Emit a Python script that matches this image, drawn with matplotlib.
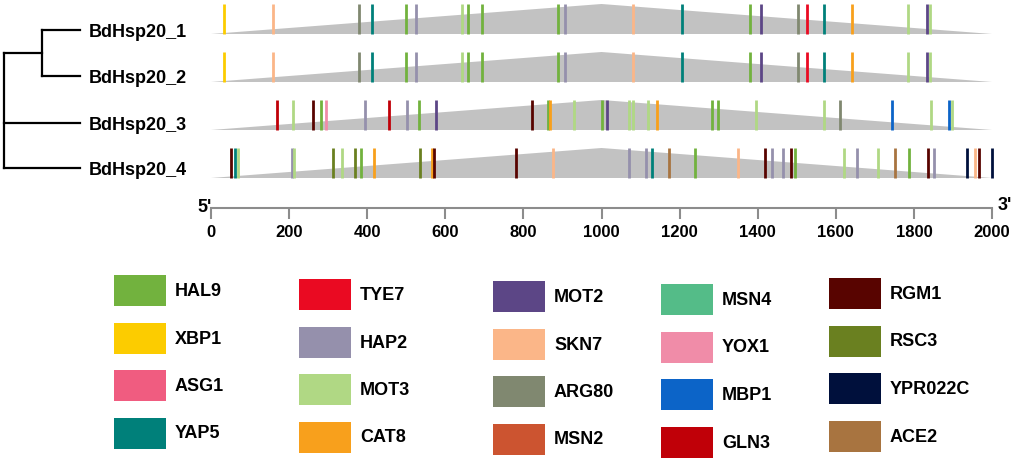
import matplotlib
matplotlib.use('Agg')
import matplotlib.pyplot as plt
from matplotlib.patches import Rectangle

plt.rcParams['font.family'] = ['Liberation Sans', 'DejaVu Sans']
plt.rcParams['font.weight'] = 'bold'

W, H = 1021, 462

genes = ['BdHsp20_1', 'BdHsp20_2', 'BdHsp20_3', 'BdHsp20_4']
seq_len = 2000

# promoter element positions (bp)
hsp1_pos = [33, 159, 379, 412, 499, 525, 643, 658, 694, 889, 907, 1081, 1206,
            1380, 1409, 1503, 1526, 1570, 1641, 1785, 1834, 1841]
hsp1_tf = ['XBP1', 'SKN7', 'ARG80', 'YAP5', 'HAL9', 'HAP2', 'MOT3', 'HAL9', 'HAL9',
           'HAL9', 'HAP2', 'SKN7', 'YAP5', 'HAL9', 'MOT2', 'ARG80', 'TYE7', 'YAP5',
           'CAT8', 'MOT3', 'MOT2', 'MOT3']
hsp2_pos = [33, 159, 379, 412, 499, 525, 643, 658, 694, 889, 907, 1081, 1206,
            1380, 1409, 1503, 1526, 1570, 1641, 1785, 1834, 1841]
hsp2_tf = ['XBP1', 'SKN7', 'ARG80', 'YAP5', 'HAL9', 'HAP2', 'MOT3', 'HAL9', 'HAL9',
           'HAL9', 'HAP2', 'SKN7', 'YAP5', 'HAL9', 'MOT2', 'ARG80', 'TYE7', 'YAP5',
           'CAT8', 'MOT3', 'MOT2', 'MOT3']
hsp3_pos = [169, 210, 261, 282, 294, 394, 456, 502, 533, 576, 822, 863, 868, 930,
            1001, 1014, 1071, 1081, 1119, 1142, 1283, 1298, 1396, 1570, 1611, 1744,
            1844, 1890, 1898]
hsp3_tf = ['GLN3', 'MOT3', 'RGM1', 'HAL9', 'YOX1', 'HAP2', 'GLN3', 'HAP2', 'HAL9',
           'MOT2', 'RGM1', 'HAL9', 'CAT8', 'MOT3', 'HAL9', 'MOT2', 'MOT3', 'MOT3',
           'MOT3', 'CAT8', 'HAL9', 'HAL9', 'MOT3', 'MOT3', 'ARG80', 'MBP1', 'MOT3',
           'MBP1', 'MOT3']
hsp4_pos = [51, 61, 69, 207, 213, 312, 335, 369, 384, 417, 535, 566, 571, 781, 876,
            1071, 1114, 1129, 1173, 1240, 1350, 1419, 1437, 1465, 1485, 1496, 1621,
            1654, 1708, 1752, 1788, 1836, 1852, 1936, 1957, 1967, 2000]
hsp4_tf = ['RGM1', 'YAP5', 'MOT3', 'HAP2', 'MOT3', 'RSC3', 'MOT3', 'RSC3', 'HAL9',
           'CAT8', 'RSC3', 'CAT8', 'RGM1', 'RGM1', 'SKN7', 'HAP2', 'HAP2', 'YAP5',
           'ACE2', 'HAL9', 'SKN7', 'RGM1', 'HAP2', 'HAP2', 'RGM1', 'HAL9', 'MOT3',
           'HAP2', 'MOT3', 'ACE2', 'HAL9', 'RGM1', 'HAP2', 'YPR022C', 'SKN7', 'RGM1',
           'YPR022C']

factors = ['HAL9', 'XBP1', 'ASG1', 'YAP5',
           'TYE7', 'HAP2', 'MOT3', 'CAT8',
           'MOT2', 'SKN7', 'ARG80', 'MSN2',
           'MSN4', 'YOX1', 'MBP1', 'GLN3',
           'RGM1', 'RSC3', 'YPR022C', 'ACE2']
factor_colors = ['#72b23e', '#fccc00', '#f05c80', '#00807a',
                 '#ea0a22', '#9590ac', '#b0d884', '#f8a01c',
                 '#5c4686', '#fbb688', '#808870', '#cc5430',
                 '#54bc88', '#f08ca8', '#0c64c8', '#c00008',
                 '#580400', '#6a8020', '#00103c', '#a87440']
color_of = dict(zip(factors, factor_colors))

sites = [(hsp1_pos, hsp1_tf), (hsp2_pos, hsp2_tf), (hsp3_pos, hsp3_tf), (hsp4_pos, hsp4_tf)]

fig = plt.figure(figsize=(W / 100, H / 100), dpi=100)

# background axes in pixel units for tree, names and legend
bg = fig.add_axes([0, 0, 1, 1])
bg.set_xlim(0, W)
bg.set_ylim(H, 0)
bg.axis('off')

# tracks
top_px = 208
ax = fig.add_axes([211 / W, (H - top_px) / H, 781 / W, top_px / H])
ax.set_xlim(0, seq_len)
ax.set_ylim(top_px, 0)
row_h = 30
baselines = [34 + 48 * i for i in range(len(genes))]
for b, (pos, tf) in zip(baselines, sites):
    ax.fill([0, seq_len / 2, seq_len], [b, b - row_h, b], color='#c2c2c2', lw=0, zorder=1)
    ax.vlines(pos, b - row_h, b, colors=[color_of[t] for t in tf], lw=2.0,
              zorder=2, clip_on=False)

for s in ['top', 'left', 'right']:
    ax.spines[s].set_visible(False)
ax.spines['bottom'].set_color('#8c8c8c')
ax.spines['bottom'].set_linewidth(1.5)
ax.set_yticks([])
ax.set_xticks(range(0, seq_len + 1, 200))
ax.tick_params(axis='x', direction='out', length=8, width=1.5, color='#8c8c8c',
               labelsize=12, pad=4)
for lbl in ax.get_xticklabels():
    lbl.set_fontweight('bold')
ax.patch.set_alpha(0)

bg.text(205, 207, "5'", fontsize=13, ha='center', va='center', fontweight='bold')
bg.text(1005, 205, "3'", fontsize=13, ha='center', va='center', fontweight='bold')

# tree
leaf_y = [30, 76, 123, 168]
root_x, node_x, tip_x = 4, 42, 80
kw = dict(color='black', lw=1.6)
node_y = (leaf_y[0] + leaf_y[1]) / 2
bg.plot([node_x, node_x], [leaf_y[0], leaf_y[1]], **kw)
bg.plot([node_x, tip_x], [leaf_y[0], leaf_y[0]], **kw)
bg.plot([node_x, tip_x], [leaf_y[1], leaf_y[1]], **kw)
bg.plot([root_x, node_x], [node_y, node_y], **kw)
bg.plot([root_x, root_x], [node_y, leaf_y[3]], **kw)
bg.plot([root_x, tip_x], [leaf_y[2], leaf_y[2]], **kw)
bg.plot([root_x, tip_x], [leaf_y[3], leaf_y[3]], **kw)
for y, g in zip(leaf_y, genes):
    bg.text(89, y + 7, g, fontsize=13, fontweight='bold', va='baseline', ha='left')

# legend, 5 columns x 4 rows
col_x = [114, 299, 493, 661, 829]
col_top = [275, 279, 281, 284, 278]
row_step = 47.5
for i, (f, c) in enumerate(zip(factors, factor_colors)):
    col, row = divmod(i, 4)
    x0 = col_x[col]
    y0 = col_top[col] + row * row_step
    bg.add_patch(Rectangle((x0, y0), 52, 31, facecolor=c, edgecolor='none'))
    bg.text(x0 + 61, y0 + 16.5, f, fontsize=13, fontweight='bold', va='center', ha='left')

fig.savefig('out.png', dpi=100)
